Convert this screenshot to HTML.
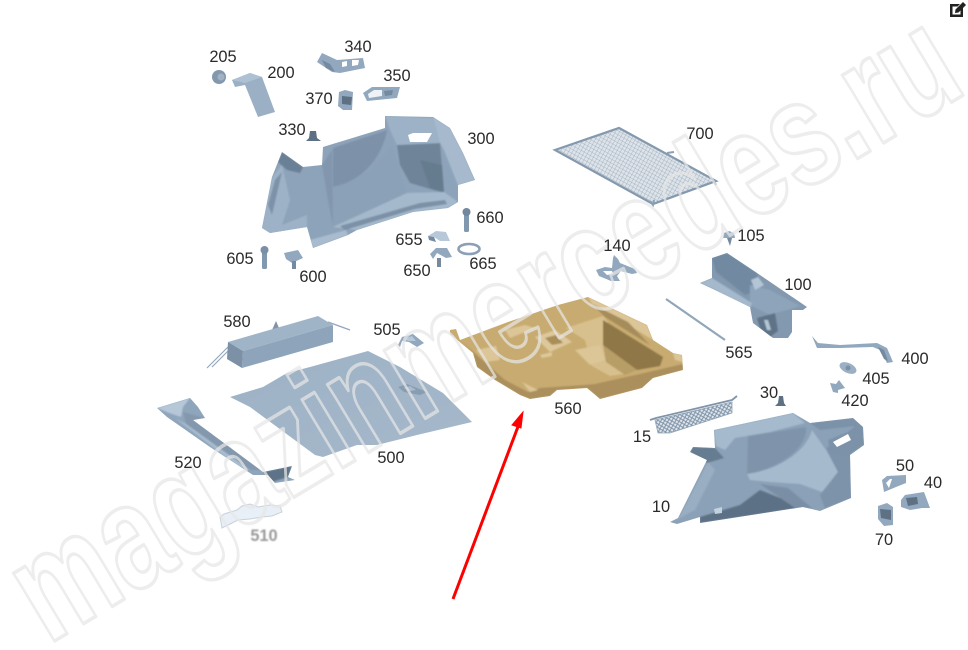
<!DOCTYPE html>
<html><head><meta charset="utf-8"><style>
html,body{margin:0;padding:0;background:#fff;width:968px;height:650px;overflow:hidden}
svg{display:block}
.l{font-family:"Liberation Sans",sans-serif;font-size:16.4px;fill:#2a2a2a;text-anchor:middle}
.d{fill:#74899f}.m{fill:#92a8be}.h{fill:#b7c8d8}.k{fill:#5d7084}
</style></head><body>
<svg width="968" height="650" viewBox="0 0 968 650" xmlns="http://www.w3.org/2000/svg">
<defs>
<linearGradient id="f" x1="0" y1="0" x2="1" y2="1"><stop offset="0" stop-color="#9db1c5"/><stop offset="1" stop-color="#a6b9cb"/></linearGradient>
<pattern id="mesh" width="4.5" height="4.5" patternUnits="userSpaceOnUse" patternTransform="rotate(-15)"><rect width="4.5" height="4.5" fill="#e4e9ee"/><path d="M0 0L4.5 4.5M4.5 0L0 4.5" stroke="#7f94a9" stroke-width="1"/></pattern>
<pattern id="mesh2" width="3.5" height="3.5" patternUnits="userSpaceOnUse" patternTransform="rotate(29)"><rect width="3.5" height="3.5" fill="#dde3e9"/><path d="M0 0V3.5M0 0H3.5" stroke="#9aabbb" stroke-width=".8"/></pattern>
<filter id="blur"><feGaussianBlur stdDeviation=".7"/></filter>
<filter id="s" x="-20%" y="-20%" width="140%" height="140%"><feGaussianBlur stdDeviation="1.8"/></filter>
<filter id="s2" x="-20%" y="-20%" width="140%" height="140%"><feGaussianBlur stdDeviation=".8"/></filter>
<filter id="soft" x="-5%" y="-5%" width="110%" height="110%"><feGaussianBlur stdDeviation=".35"/></filter>
<clipPath id="c300"><path d="M385 116L433 117L450 128L463 153L475 180L458 185L458 202L448 208L413 212L357 230L348 235L313 248L307 227L270 233L262 228L272 177L282 152L303 167L322 165L323 147L385 128Z"/></clipPath>
<clipPath id="c10"><path d="M670 522L678 518L707 460L690 452L693 447L715 448L714 430L793 413L810 423L853 418L863 427L864 445L850 455L851 498L820 511L803 507L700 523L700 517L677 524Z"/></clipPath>
<clipPath id="c560"><path d="M450 330L456 329L460 340L508 322L558 305L588 297L647 325L653 340L673 353L682 355L683 370L653 378L642 388L600 399L593 393L587 388L557 390L550 396L530 399L520 395L495 380L477 367L473 353L450 334Z"/></clipPath>
<clipPath id="c100"><path d="M712 258L727 253L757 273L807 307L803 310L792 310L792 332L788 338L773 338L753 323L750 307L715 290L700 283L712 278Z"/></clipPath>
<clipPath id="c520"><path d="M157 408L190 398L198 407L205 418L193 420L263 472L292 466L288 477L295 480L275 483L268 475L253 475L210 447L167 417Z"/></clipPath>
</defs>

<g filter="url(#soft)">
<!-- 205 -->
<circle cx="219" cy="77" r="7" fill="#8398ad"/><circle cx="221" cy="77" r="3.5" fill="#a0b2c3"/>
<!-- 200 -->
<path fill="#9bb0c5" d="M232 80L250 73L262 77L275 112L258 117L245 85L235 87Z"/>
<path fill="#aec1d3" d="M232 80L250 73L262 77L245 83Z"/>
<!-- 340 -->
<path class="m" d="M317 62L322 53L337 60L363 58L365 68L340 73L332 72Z"/>
<path class="d" d="M322 60L330 64L335 72L326 68Z"/>
<path fill="#fff" d="M342 62L347 61L347 66L342 67ZM352 60L359 60L358 65L352 66Z"/>
<!-- 350 -->
<path class="m" d="M363 93L372 87L400 87L397 98L367 101Z"/>
<path fill="#eef2f6" d="M368 94L374 90L382 90L382 96L369 98Z"/>
<path class="d" d="M384 91L393 90L392 95L385 96Z"/>
<!-- 370 -->
<path class="m" d="M339 92L345 90L353 92L352 110L343 110L338 106Z"/>
<path class="k" d="M342 96L352 97L351 105L342 104Z"/>
<!-- 330 -->
<path class="k" d="M310 131L316 131L317 138L321 141L306 141L309 138Z"/>

<!-- 300 -->
<g clip-path="url(#c300)">
<rect x="255" y="110" width="225" height="140" fill="#8da3b9"/>
<g filter="url(#s2)">
<path fill="#9db2c6" d="M262 228L272 177L282 165L290 200L282 225L307 215L307 232L262 235Z"/>
<path fill="#7d92a8" d="M333 148L387 130C384 150 368 180 333 187Z"/>
<path fill="#8ba1b7" d="M332 187C368 180 384 155 392 145L407 193L333 227Z"/>
<path fill="#6f8499" d="M397 145L440 143L444 193L410 183L400 165Z"/>
<path fill="#5f7489" d="M420 160L442 165L444 192L430 188Z" opacity=".6"/>
<path fill="#a7bacd" d="M433 117L450 128L463 153L475 180L458 185L444 150L440 143Z"/>
<path fill="#9db2c6" d="M385 116L433 118L440 143L397 145L390 130Z"/>
<path fill="#a5b9cc" d="M407 193L444 192L458 202L448 208L413 212L357 230L333 227Z"/>
<path fill="#7b90a6" d="M340 226L420 203L445 200L447 204L415 209L345 230Z"/>
<path fill="#a9bccf" d="M313 248L348 235L346 230L310 240Z"/>
<path fill="#6b8096" d="M282 152L303 167L300 173L287 170L278 162Z"/>
<path fill="#7d92a8" d="M322 165L332 150L333 226L328 200Z" opacity=".7"/>
<path fill="#7d92a8" d="M275 180L282 172L272 215L268 205Z"/>
</g>
<path fill="#fff" d="M408 135L413 133L432 133L427 142L410 142Z"/>
</g>

<!-- 660 -->
<rect x="464" y="213" width="5" height="19" rx="1.5" fill="#8298ae"/><circle cx="466.5" cy="212" r="4" fill="#72889e"/>
<!-- 605 -->
<rect x="262" y="251" width="5" height="18" rx="1.5" fill="#8298ae"/><circle cx="264.5" cy="250" r="4" fill="#7a90a6"/>
<!-- 600 -->
<path class="m" d="M284 253L298 250L303 258L292 263L286 259Z"/><rect x="292" y="261" width="4" height="8" fill="#74899f"/>
<!-- 655 -->
<path class="h" d="M428 236L436 231L446 232L450 241L440 241L434 237Z"/><path class="d" d="M428 236L434 237L436 242L429 240Z"/>
<!-- 650 -->
<path class="m" d="M430 254L436 248L447 248L452 257L446 258L437 253L433 259Z"/><rect x="437" y="258" width="4" height="9" fill="#74899f"/>
<!-- 665 -->
<ellipse cx="469" cy="249" rx="10.5" ry="5" fill="none" stroke="#8ba0b5" stroke-width="2.6"/>

<!-- 700 -->
<path d="M555 150L619 128L716 181L653 204Z" fill="url(#mesh2)" stroke="#8499ae" stroke-width="2.2"/>
<path d="M667 153L674 152M650 201L653 205L654 200M714 181L716 185" stroke="#8aa0b5" stroke-width="2" fill="none"/>
<!-- 105 -->
<path class="m" d="M724 233L729 231L734 233L735 238L723 238Z"/><path class="d" d="M727 238L732 238L730 246Z"/>
<!-- 140 -->
<path class="m" d="M596 270L605 267L612 268L613 258L614 255L618 259L620 263L635 269L637 273L632 274L621 271L617 276L620 281L611 281L599 276Z"/>
<path fill="#fff" d="M603 271L612 271L613 274L607 275Z"/>

<!-- 100 -->
<g clip-path="url(#c100)">
<rect x="695" y="250" width="115" height="92" fill="#8399af"/>
<g filter="url(#s2)">
<path fill="#728aa1" d="M712 258L727 253L757 273L760 290L745 295L716 272Z"/>
<path fill="#8ea4ba" d="M750 285L770 290L800 306L770 315L750 305Z"/>
<path fill="#a5b9cc" d="M700 283L712 278L752 303L750 309L715 290Z"/>
<path fill="#b4c6d6" d="M751 280L758 277L764 285L755 290Z"/>
<path fill="#5f7388" d="M757 318L775 313L778 331L770 337L760 328Z"/>
<path fill="#b4c6d6" d="M764 320L768 320L771 330L767 330Z"/>
</g></g>
<!-- 565 -->
<path d="M666 299L725 340" stroke="#90a6bb" stroke-width="2.2"/>
<!-- 400 -->
<path class="m" d="M812 336L818 343L840 345L877 343L887 348L893 362L887 363L880 350L873 347L840 348L817 348Z"/>
<path class="d" d="M878 347L884 350L888 361L884 359Z"/>
<!-- 405 -->
<ellipse cx="848" cy="368" rx="9" ry="5" fill="#9bb0c4" transform="rotate(25 848 368)"/><circle cx="848" cy="368" r="2.5" fill="#7b90a5"/>
<!-- 420 -->
<path class="m" d="M830 383L836 384L839 380L842 384L845 388L838 390L838 393L833 392Z"/>

<!-- 30 -->
<path class="k" d="M779 396L783 396L784 403L786 406L775 406L778 403Z"/>
<!-- 15 -->
<path d="M655 420L732 402L732 413L670 433L658 433Z" fill="url(#mesh)" stroke="#8ea2b6" stroke-width=".8"/>
<path d="M650 420L656 418L732 400L737 396" stroke="#7f94a8" stroke-width="1.8" fill="none"/>

<!-- 10 -->
<g clip-path="url(#c10)">
<rect x="665" y="410" width="205" height="118" fill="#8ba1b7"/>
<g filter="url(#s2)">
<path fill="#a6bace" d="M714 430L793 413L805 423L770 432L735 438L725 450L716 446Z"/>
<path fill="#7f94aa" d="M748 436L806 427C808 450 775 470 747 474Z"/>
<path fill="#a6bace" d="M747 474C778 470 806 452 812 430L826 450L838 472L822 492L800 484L770 482L750 480Z"/>
<path fill="#7d93a9" d="M826 448L850 436L851 498L825 508L820 495L838 472Z"/>
<path fill="#82987a" opacity="0"/>
<path fill="#7c92a8" d="M810 423L853 418L863 427L864 445L848 456L830 452L828 440L848 432L855 426L820 430Z"/>
<path fill="#667b90" d="M690 452L693 447L715 448L724 458L707 463Z"/>
<path fill="#5d7186" d="M700 517L740 505L760 490L790 502L803 507L760 514L700 523Z"/>
<path fill="#7a8fa5" d="M760 484L788 488L812 508L795 508Z"/>
<path fill="#9fb3c7" d="M672 522L680 516L708 462L715 470L695 510Z" opacity=".7"/>
</g>
<path fill="#fff" d="M833 442L848 434L851 440L837 447Z"/>
<path fill="#c4d2df" d="M714 509L722 507L722 513L715 514Z"/>
</g>

<!-- 50 -->
<path class="m" d="M882 480L887 476L906 475L906 483L896 487L884 492Z"/><path fill="#fff" d="M886 483L890 479L892 479L889 488Z"/>
<!-- 40 -->
<path class="m" d="M901 500L905 495L924 492L927 500L930 508L922 508L910 510L901 507Z"/><path class="k" d="M906 498L917 497L918 504L908 506Z"/>
<!-- 70 -->
<path class="m" d="M878 506L887 503L893 507L893 525L884 526L878 519Z"/><path class="k" d="M880 509L891 510L891 520L881 518Z"/>

<!-- 580 -->
<path d="M207 368L232 343M212 367L236 343" stroke="#93a8bd" stroke-width="1.2"/>
<path d="M328 322L350 330" stroke="#93a8bd" stroke-width="1.4"/>
<path fill="#7f94aa" d="M272 330L276 321L279 328Z"/>
<path fill="#a0b4c8" d="M228 342L318 316L333 325L243 351Z"/>
<path fill="#8ea4ba" d="M243 351L333 325L333 342L242 368Z"/>
<path fill="#7b90a6" d="M228 342L243 351L242 368L227 359Z"/>
<!-- 505 -->
<path class="m" d="M398 345L402 337L413 334L424 343L417 347L409 342L402 341L400 347Z"/>
<path class="h" d="M404 339L412 336L416 341L408 341Z"/>
<!-- 500 -->
<path fill="url(#f)" d="M230 397L263 387L287 373L310 367L368 351L400 367L443 393L472 422L417 435L377 445L357 445L323 457L315 455L250 407Z"/>
<path class="d" d="M398 387L407 384L427 392L420 395L404 392Z" opacity=".55"/>
<path class="h" d="M404 388L410 386L416 390L410 391Z" opacity=".7"/>

<!-- 520 -->
<g clip-path="url(#c520)">
<rect x="150" y="395" width="150" height="92" fill="#8fa5bb"/>
<g filter="url(#s2)">
<path fill="#b6c8d8" d="M157 408L190 398L183 407L181 417L172 414Z"/>
<path fill="#8398ad" d="M183 412L205 418L193 420L262 470L250 470L186 424Z"/>
<path fill="#a9bdd0" d="M175 418L186 424L250 470L240 468Z"/>
<path fill="#5f7388" d="M263 472L292 466L288 477L272 482L266 475Z"/>
</g></g>
<!-- 510 -->
<path fill="#e8eff6" stroke="#c7d2dc" stroke-width="1" d="M220 517L224 514L237 510L242 506L250 504L258 507L270 505L280 506L282 512L272 516L262 517L250 519L238 520L232 523L222 528Z"/>

<!-- 560 -->
<g clip-path="url(#c560)">
<rect x="445" y="290" width="245" height="115" fill="#c8ab70"/>
<g filter="url(#s2)">
<path fill="#a48a58" d="M460 340L473 353L477 367L495 380L520 395L530 399L550 396L557 390L587 388L593 393L600 399L642 388L653 378L683 370L683 364L640 374L595 384L585 385L540 388L528 392L505 380L480 358Z" opacity=".8"/>
<path fill="#dcc698" d="M588 297L647 325L653 340L620 320L592 304Z"/>
<path fill="#a68c5a" d="M592 304L628 322L650 345L605 317Z"/>
<path fill="#d8c08e" d="M566 328L603 316L608 322L604 345L608 358L630 373L610 376L592 366L585 340Z"/>
<path fill="#8f7747" d="M603 320L663 357L660 366L637 370L603 345Z"/>
<path fill="#b79d66" d="M603 345L637 370L625 375L606 362Z"/>
<path fill="#ddc89c" d="M535 337L555 330L572 342L550 352Z"/>
<path fill="#a98e59" d="M545 338L556 335L563 343L552 345Z"/>
<path fill="#dcc698" d="M575 350L600 345L605 360L590 365Z"/>
<path fill="#dcc698" d="M476 350L496 346L500 360L486 362Z"/>
<path fill="#dcc698" d="M505 330L525 325L535 328L510 338Z"/>
<path fill="#dcc698" d="M522 382L530 386L538 390L530 392Z"/>
<path fill="#ddc89c" d="M540 355L552 352L552 356L542 358Z"/>
<path fill="#dcc698" d="M673 353L682 355L683 362L675 360Z"/>
</g></g>
</g>

<!-- watermark -->
<text x="48" y="645" transform="rotate(-31 48 645)" font-family="'Liberation Sans',sans-serif" font-weight="bold" font-size="150" textLength="1075" lengthAdjust="spacingAndGlyphs" fill="none" stroke="#e6e6e6" stroke-opacity=".72" stroke-width="3.6" stroke-linejoin="round">magazinmercedes.ru</text>

<!-- arrow -->
<path d="M453 599L519 424" stroke="#f00" stroke-width="3" fill="none"/>
<path d="M523 412L512 425L521 428Z" fill="#f00" stroke="#f00" stroke-width="1"/>

<!-- labels -->
<text class="l" x="223" y="62">205</text><text class="l" x="281" y="78">200</text>
<text class="l" x="358" y="52">340</text><text class="l" x="397" y="81">350</text>
<text class="l" x="319" y="104">370</text><text class="l" x="292" y="135">330</text>
<text class="l" x="481" y="144">300</text><text class="l" x="490" y="223">660</text>
<text class="l" x="409" y="245">655</text><text class="l" x="417" y="276">650</text>
<text class="l" x="483" y="269">665</text><text class="l" x="240" y="264">605</text>
<text class="l" x="313" y="282">600</text><text class="l" x="700" y="139">700</text>
<text class="l" x="751" y="241">105</text><text class="l" x="617" y="251">140</text>
<text class="l" x="798" y="290">100</text><text class="l" x="739" y="358">565</text>
<text class="l" x="915" y="364">400</text><text class="l" x="876" y="384">405</text>
<text class="l" x="855" y="406">420</text><text class="l" x="769" y="398">30</text>
<text class="l" x="642" y="442">15</text><text class="l" x="661" y="512">10</text>
<text class="l" x="905" y="471">50</text><text class="l" x="933" y="488">40</text>
<text class="l" x="884" y="545">70</text><text class="l" x="568" y="414">560</text>
<text class="l" x="237" y="327">580</text><text class="l" x="387" y="335">505</text>
<text class="l" x="391" y="463">500</text><text class="l" x="188" y="468">520</text>
<text class="l" x="264" y="541" style="fill:#9a9a9a;font-weight:bold" filter="url(#blur)">510</text>

<!-- edit icon -->
<path d="M950 4H960L957.5 6.5H952.5V14.5H960.5V10L963 7.5V17H950Z" fill="#222"/>
<path d="M955.5 9.5L963 2L966 5L958.5 12.5L955 13Z" fill="#222"/>
</svg>
</body></html>
